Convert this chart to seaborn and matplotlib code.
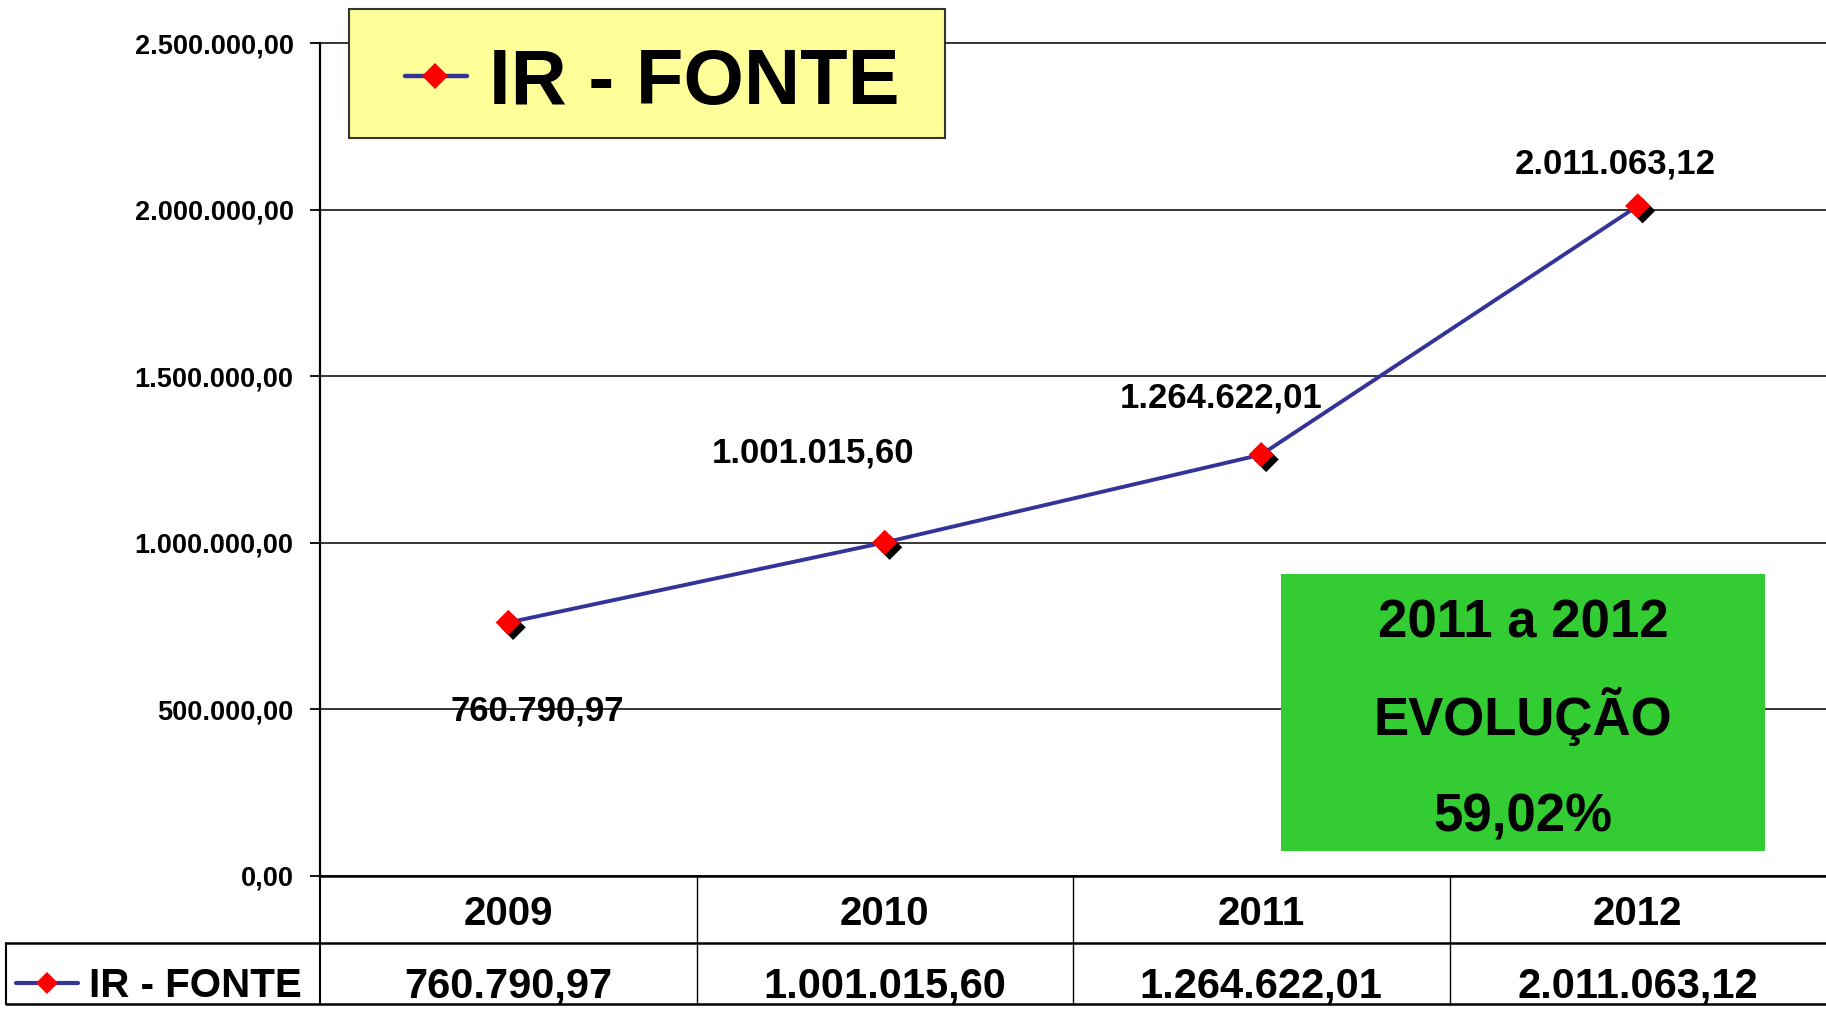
import matplotlib
matplotlib.use("Agg")
import matplotlib.pyplot as plt
import matplotlib.patheffects as pe
from matplotlib.patches import Rectangle
from matplotlib.lines import Line2D
from matplotlib.ticker import FuncFormatter, MultipleLocator
import seaborn as sns
import pandas as pd

# ---- data ----
years = ["2009", "2010", "2011", "2012"]
ir_fonte = [760790.97, 1001015.60, 1264622.01, 2011063.12]
series_name = "IR - FONTE"
box_lines = ["2011 a 2012", "EVOLUÇÃO", "59,02%"]
y_ticks = [0, 500000, 1000000, 1500000, 2000000, 2500000]
# label offsets (pixels) relative to points
label_offsets = [(29, -88), (-72, 89), (-40, 57), (-23, 42)]

sns.set_theme(style="white")
plt.rcParams["font.family"] = ["Liberation Sans", "DejaVu Sans"]
plt.rcParams["font.weight"] = "bold"

W, H = 1826, 1009
fig = plt.figure(figsize=(W / 100, H / 100), dpi=100)


def fx(x):
    return x / W


def fy(y):
    return 1 - y / H


ax_left, ax_right, ax_top, ax_bottom = 320, 1826, 43, 876
ax = fig.add_axes([fx(ax_left), fy(ax_bottom), fx(ax_right - ax_left), (ax_bottom - ax_top) / H])

df = pd.DataFrame({"pos": range(len(years)), "year": years, "value": ir_fonte})

LINE_C = "#333399"
sns.lineplot(data=df, x="pos", y="value", ax=ax, color=LINE_C, linewidth=2.8, zorder=3)
sns.scatterplot(data=df, x="pos", y="value", ax=ax, marker="D", s=165, color="#FF0000",
                edgecolor="none", linewidth=0, zorder=4)
for coll in ax.collections:
    coll.set_path_effects([pe.SimplePatchShadow(offset=(3.5, -3.5), shadow_rgbFace="black", alpha=1.0),
                           pe.Normal()])

ax.set_xlim(-0.5, len(years) - 0.5)
ax.set_ylim(y_ticks[0], y_ticks[-1])
ax.yaxis.set_major_locator(MultipleLocator(500000))


def br_fmt(v, pos=None):
    s = f"{v:,.2f}"
    return s.replace(",", "X").replace(".", ",").replace("X", ".")


ax.yaxis.set_major_formatter(FuncFormatter(br_fmt))
ax.set_xticks([])
ax.set_xlabel("")
ax.set_ylabel("")
ax.grid(axis="y", color="black", linewidth=1.1)
for gl in ax.get_ygridlines():
    gl.set_clip_on(False)
ax.set_axisbelow(True)
for s in ["top", "right", "bottom"]:
    ax.spines[s].set_visible(False)
ax.spines["left"].set_color("black")
ax.spines["left"].set_linewidth(1.6)
ax.tick_params(axis="y", which="major", left=True, length=7, width=1.3, color="black",
               labelsize=19.5, pad=12, labelcolor="black")
for t in ax.get_yticklabels():
    t.set_fontweight("bold")
ax.set_facecolor("white")

# data labels
for i, (v, off) in enumerate(zip(ir_fonte, label_offsets)):
    ax.annotate(br_fmt(v), xy=(i, v), xytext=off, textcoords="offset pixels",
                ha="center", va="center", fontsize=25, fontweight="bold", color="black",
                zorder=5)

# ---- yellow legend box ----
fig.patches.append(Rectangle((fx(349), fy(138)), fx(945 - 349), (138 - 9) / H,
                             transform=fig.transFigure, facecolor="#FFFF99",
                             edgecolor="#333333", linewidth=1.5, zorder=10))
fig.lines.append(Line2D([fx(405), fx(467)], [fy(76), fy(76)], transform=fig.transFigure,
                        color=LINE_C, linewidth=3.2, zorder=11))
fig.lines.append(Line2D([fx(435)], [fy(76)], transform=fig.transFigure, marker="D",
                        markersize=13, color="#FF0000", markeredgewidth=0, zorder=12))
fig.text(fx(489), fy(104), series_name, fontsize=56, fontweight="bold", ha="left",
         va="baseline", color="black", zorder=12)

# ---- green box ----
fig.patches.append(Rectangle((fx(1281), fy(851)), fx(1765 - 1281), (851 - 574) / H,
                             transform=fig.transFigure, facecolor="#33CC33",
                             edgecolor="none", zorder=10))
for txt, yb in zip(box_lines, [637, 735, 832]):
    fig.text(fx(1523), fy(yb), txt, fontsize=38, fontweight="bold", ha="center",
             va="baseline", color="black", zorder=12)

# ---- data table ----
row1_top, row1_bot, row2_bot = 876, 943, 1004
col_edges = [ax_left + i * (ax_right - ax_left) / len(years) for i in range(len(years) + 1)]


def hline(x0, x1, y, lw=1.5):
    fig.lines.append(Line2D([fx(x0), fx(x1)], [fy(y), fy(y)], transform=fig.transFigure,
                            color="black", linewidth=lw, zorder=9))


def vline(x, y0, y1, lw=1.2):
    fig.lines.append(Line2D([fx(x), fx(x)], [fy(y0), fy(y1)], transform=fig.transFigure,
                            color="black", linewidth=lw, zorder=9))


hline(ax_left, ax_right, row1_top, 1.8)
hline(6, ax_right, row1_bot, 1.8)
hline(6, ax_right, row2_bot, 1.8)
vline(6, row1_bot, row2_bot, 1.5)
vline(ax_left, row1_top, row2_bot, 1.5)
for xe in col_edges[1:-1]:
    vline(xe, row1_top, row2_bot, 1.0)

for i, (yr, v) in enumerate(zip(years, ir_fonte)):
    xc = (col_edges[i] + col_edges[i + 1]) / 2
    fig.text(fx(xc), fy(925), yr, fontsize=29, fontweight="bold", ha="center",
             va="baseline", color="black")
    fig.text(fx(xc), fy(997), br_fmt(v), fontsize=30, fontweight="bold", ha="center",
             va="baseline", color="black")

# legend key in table
fig.lines.append(Line2D([fx(16), fx(78)], [fy(983), fy(983)], transform=fig.transFigure,
                        color=LINE_C, linewidth=3, zorder=11))
fig.lines.append(Line2D([fx(47)], [fy(983)], transform=fig.transFigure, marker="D",
                        markersize=11, color="#FF0000", markeredgewidth=0, zorder=12))
fig.text(fx(89), fy(997), series_name, fontsize=29, fontweight="bold", ha="left",
         va="baseline", color="black")

fig.savefig("out.png", dpi=100, facecolor="white")
